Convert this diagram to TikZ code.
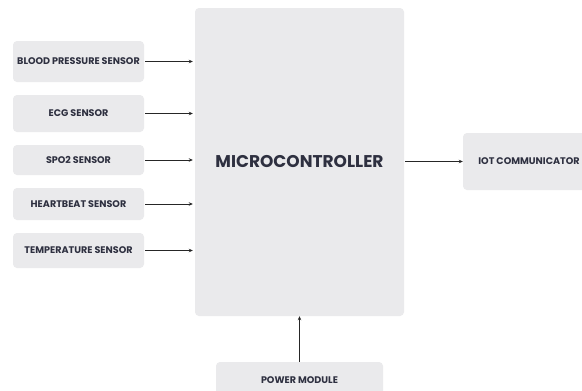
\documentclass[tikz,border=0pt]{standalone}
\usepackage{fontspec}
\setmainfont{Poppins}
\usetikzlibrary{arrows.meta}
\definecolor{boxfill}{HTML}{EAEAEC}
\definecolor{ink}{HTML}{2E3040}
\tikzset{
  blk/.style={fill=boxfill, rounded corners=4pt, inner sep=0pt, text=ink, font=\bfseries\fontsize{9.6}{11}\selectfont},
  conn/.style={-{Stealth[length=4pt,width=3.5pt]}, line width=0.9pt, draw=black!85},
}
\begin{document}
\begin{tikzpicture}[x=1pt,y=-1pt]
\useasboundingbox (0,0) rectangle (582,391);
\clip (0,0) rectangle (582,391);
\fill[white] (0,0) rectangle (582,391);
% microcontroller
\node[blk, minimum width=209pt, minimum height=308pt, font=\bfseries\fontsize{17}{20}\selectfont] (mc) at (299.5,162) {MICROCONTROLLER};
% sensors
\node[blk, minimum width=131pt, minimum height=41pt] (s1) at (78.5,61.5) {BLOOD PRESSURE SENSOR};
\node[blk, minimum width=131pt, minimum height=37pt] (s2) at (78.5,113.5) {ECG SENSOR};
\node[blk, minimum width=131pt, minimum height=30pt] (s3) at (78.5,160) {SPO2 SENSOR};
\node[blk, minimum width=131pt, minimum height=32pt] (s4) at (78.5,204) {HEARTBEAT SENSOR};
\node[blk, minimum width=131pt, minimum height=35pt] (s5) at (78.5,250.5) {TEMPERATURE SENSOR};
% iot
\node[blk, minimum width=132pt, minimum height=57pt] (iot) at (529,161.5) {IOT COMMUNICATOR};
% power
\node[blk, minimum width=167pt, minimum height=36pt] (pw) at (299.5,380) {POWER MODULE};
% connectors
\foreach \s in {s1,s2,s3,s4,s5}
  \draw[conn, shorten <=1pt, shorten >=2pt] (\s.east) -- (\s.east -| mc.west);
\draw[conn, shorten <=1pt] (mc.east |- iot.west) -- (iot.west);
\draw[conn] (pw.north) -- (mc.south);
\end{tikzpicture}
\end{document}
